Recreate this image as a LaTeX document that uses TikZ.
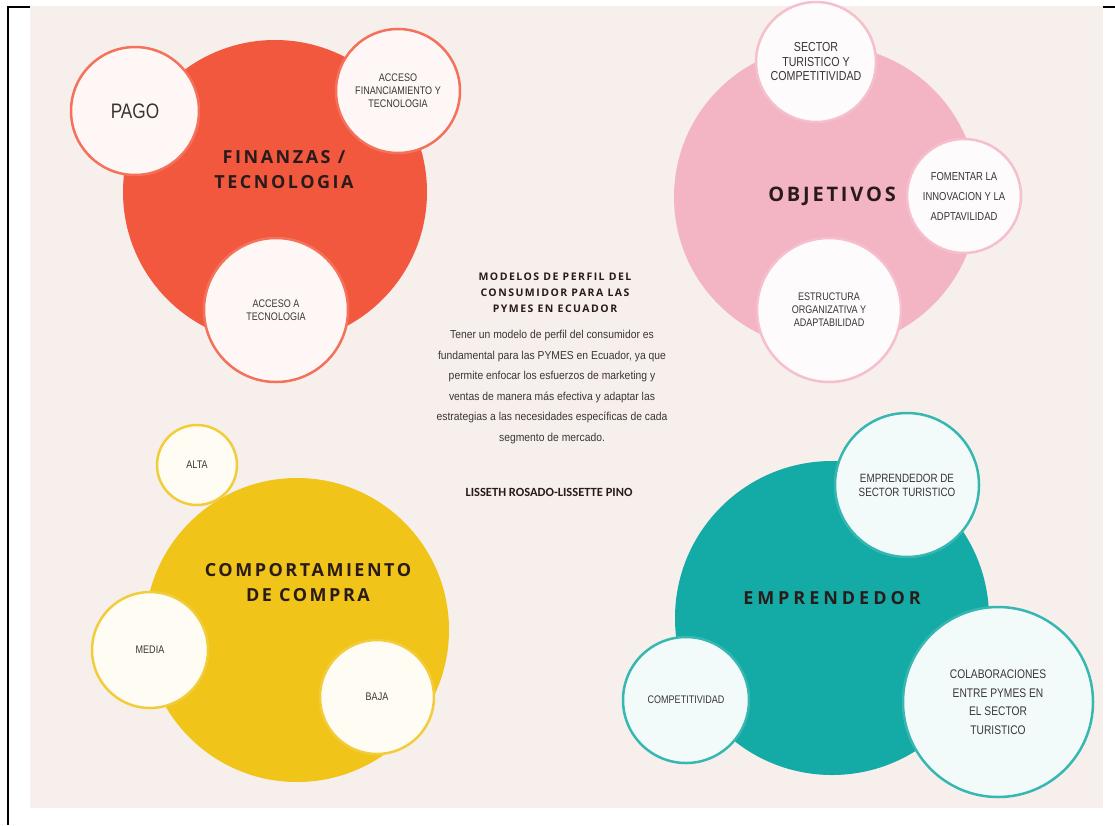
\documentclass[tikz,border=0pt]{standalone}
\usepackage{fontspec}
\setmainfont{Liberation Sans}
\newfontfamily\hubfont[LetterSpace=14]{Open Sans}
\newfontfamily\headfont[LetterSpace=14]{Open Sans}
\newfontfamily\petalfont[FakeStretch=0.82]{Liberation Sans}
\newfontfamily\bodyfont[FakeStretch=0.9]{Liberation Sans}
\newfontfamily\authorfont{Carlito}
\definecolor{paper}{HTML}{F7EFEC}
\definecolor{finred}{HTML}{F2583E}
\definecolor{objpink}{HTML}{F3B4C4}
\definecolor{comyellow}{HTML}{F0C418}
\definecolor{empteal}{HTML}{14AAA5}
\definecolor{hubtext}{HTML}{2A1B1B}
\definecolor{petaltext}{HTML}{3A3535}
\begin{document}
\begin{tikzpicture}[x=1pt, y=-1pt,
  every node/.style={align=center, inner sep=0pt},
  hub/.style={circle, fill=#1},
  hubtitle/.style={font=\hubfont\bfseries\fontsize{18}{25}\selectfont, text=hubtext},
  petal/.style={circle, draw=#1!85!white, line width=2.5pt, fill=#1!5!white, font=\petalfont\fontsize{11}{13}\selectfont, text=petaltext}
]
\useasboundingbox (0,0) rectangle (1115,825);
\fill[paper] (30,6) rectangle (1103,808);
\draw[line width=2pt] (30,7) -- (8,7) -- (8,825);
\draw[line width=2pt] (1103,7) -- (1115,7);

% finanzas / tecnologia
\node[hub=finred, minimum size=304pt] (finanzas) at (275,192) {};
\node[hubtitle] (finanzastxt) at (284,170) {FINANZAS /\\TECNOLOGIA};
\node[petal=finred, minimum size=128pt, font=\petalfont\fontsize{21}{24}\selectfont] (pago) at (135,111) {PAGO};
\node[petal=finred, minimum size=124pt] (accesofin) at (398,91) {ACCESO\\FINANCIAMIENTO Y\\TECNOLOGIA};
\node[petal=finred, minimum size=144pt] (accesotec) at (276,310) {ACCESO A\\TECNOLOGIA};

% objetivos
\node[hub=objpink, minimum size=304pt] (objetivos) at (826,197) {};
\node[hubtitle, font=\hubfont\bfseries\fontsize{20}{25}\selectfont] (objetivostxt) at (832,196) {OBJETIVOS};
\node[petal=objpink, minimum size=120pt, font=\petalfont\fontsize{13}{14.5}\selectfont] (sector) at (816,62) {SECTOR\\TURISTICO Y\\COMPETITIVIDAD};
\node[petal=objpink, minimum size=114pt, font=\petalfont\fontsize{11.5}{20}\selectfont] (fomentar) at (964,196) {FOMENTAR LA\\INNOVACION Y LA\\ADPTAVILIDAD};
\node[petal=objpink, minimum size=144pt] (estructura) at (829,310) {ESTRUCTURA\\ORGANIZATIVA Y\\ADAPTABILIDAD};

% comportamiento de compra
\node[hub=comyellow, minimum size=304pt] (compra) at (297,630) {};
\node[hubtitle] (compratxt) at (308,583) {COMPORTAMIENTO\\DE COMPRA};
\node[petal=comyellow, minimum size=80pt] (alta) at (197,465) {ALTA};
\node[petal=comyellow, minimum size=116pt] (media) at (150,650) {MEDIA};
\node[petal=comyellow, minimum size=114pt] (baja) at (377,697) {BAJA};

% emprendedor
\node[hub=empteal, minimum size=314pt] (emprendedor) at (832,618) {};
\node[hubtitle, font=\hubfont\bfseries\fontsize{18}{25}\selectfont\addfontfeature{LetterSpace=22}] (emprendedortxt) at (832,598) {EMPRENDEDOR};
\node[petal=empteal, minimum size=144pt, font=\petalfont\fontsize{12}{14}\selectfont] (emprendedorde) at (907,485) {EMPRENDEDOR DE\\SECTOR TURISTICO};
\node[petal=empteal, minimum size=190pt, font=\petalfont\fontsize{12.5}{18.5}\selectfont] (colaboraciones) at (998,702) {COLABORACIONES\\ENTRE PYMES EN\\EL SECTOR\\TURISTICO};
\node[petal=empteal, minimum size=126pt] (competitividad) at (686,700) {COMPETITIVIDAD};

% texto central
\node[font=\headfont\bfseries\fontsize{10.5}{16}\selectfont, text=hubtext] (titulo) at (555,293) {MODELOS DE PERFIL DEL\\CONSUMIDOR PARA LAS\\PYMES EN ECUADOR};
\node[font=\bodyfont\fontsize{11.5}{20.6}\selectfont, text=petaltext] (resumen) at (552,387) {Tener un modelo de perfil del consumidor es\\fundamental para las PYMES en Ecuador, ya que\\permite enfocar los esfuerzos de marketing y\\ventas de manera más efectiva y adaptar las\\estrategias a las necesidades específicas de cada\\segmento de mercado.};
\node[font=\authorfont\bfseries\fontsize{12.5}{14}\selectfont, text=hubtext] (autoras) at (549,492) {LISSETH ROSADO-LISSETTE PINO};
\end{tikzpicture}
\end{document}
